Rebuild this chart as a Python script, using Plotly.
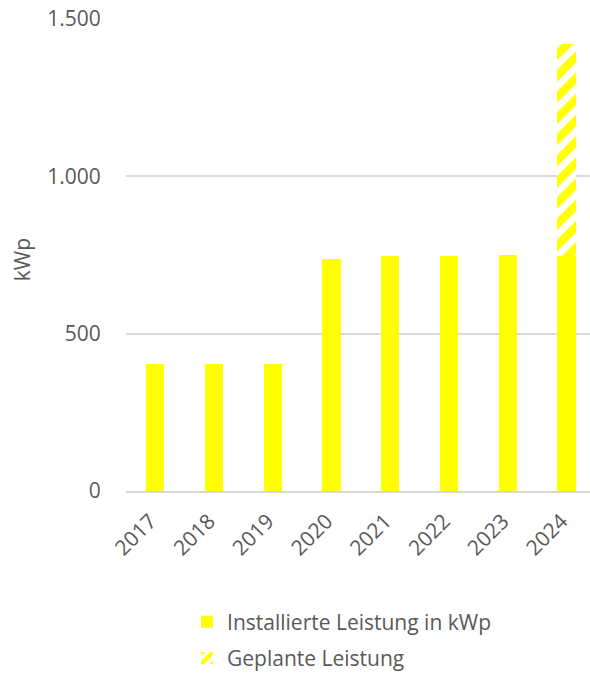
import plotly.graph_objects as go

# Installed PV capacity per year (kWp) and planned total for 2024
years = ["2017", "2018", "2019", "2020", "2021", "2022", "2023", "2024"]
installed_kwp = [403, 403, 403, 737, 748, 748, 750, 748]
planned_total_kwp = [None, None, None, None, None, None, None, 1420]

# The planned part is stacked on top of the installed capacity
planned_extra = [
    (p - i) if p is not None else 0
    for p, i in zip(planned_total_kwp, installed_kwp)
]

YELLOW = "#FFFF00"
TEXT = "#595959"
GRID = "#D9D9D9"
FONT = "Open Sans, Liberation Sans, sans-serif"
FS = 21

fig = go.Figure()
fig.add_trace(go.Bar(
    x=years, y=installed_kwp, name="Installierte Leistung in kWp",
    marker=dict(color=YELLOW, line=dict(width=0)), width=0.31,
    legendgroup="a",
))
fig.add_trace(go.Bar(
    x=years, y=planned_extra, name="Geplante Leistung",
    marker=dict(
        color=YELLOW, line=dict(width=0),
        pattern=dict(shape="/", fgcolor=YELLOW, bgcolor="white",
                     size=15, solidity=0.55, fillmode="replace"),
    ),
    width=0.31, legendgroup="b",
))

# Vertical axis caption
fig.add_annotation(
    text="kWp", xref="paper", yref="paper", x=-0.224, y=0.489,
    xanchor="center", yanchor="middle", textangle=-90, showarrow=False,
    font=dict(size=FS, color=TEXT),
)

fig.update_layout(
    width=590, height=673,
    barmode="stack",
    plot_bgcolor="white", paper_bgcolor="white",
    margin=dict(l=126, r=0, t=19, b=182, autoexpand=False),
    font=dict(family=FONT, size=FS, color=TEXT),
    separators=",.",
    showlegend=True,
    legend=dict(
        orientation="v", xref="container", yref="container",
        x=0.317, y=0.106, xanchor="left", yanchor="top",
        traceorder="grouped", tracegroupgap=6,
        font=dict(size=FS, color=TEXT),
    ),
    xaxis=dict(
        type="category", range=[-0.5, 7.4], tickangle=-45, showgrid=False,
        showline=True, linecolor=GRID, linewidth=1.5, automargin=False,
        ticks="outside", ticklen=8, tickcolor="rgba(0,0,0,0)",
        ticklabelshift=-5,
        tickfont=dict(size=FS, color=TEXT),
    ),
    yaxis=dict(
        range=[0, 1500], dtick=500, tickformat=",d", automargin=False,
        showgrid=True, gridcolor=GRID, gridwidth=1.5,
        zeroline=False, ticks="outside", ticklen=20,
        tickcolor="rgba(0,0,0,0)",
        tickfont=dict(size=FS, color=TEXT),
    ),
)

fig.write_html("out.html")
